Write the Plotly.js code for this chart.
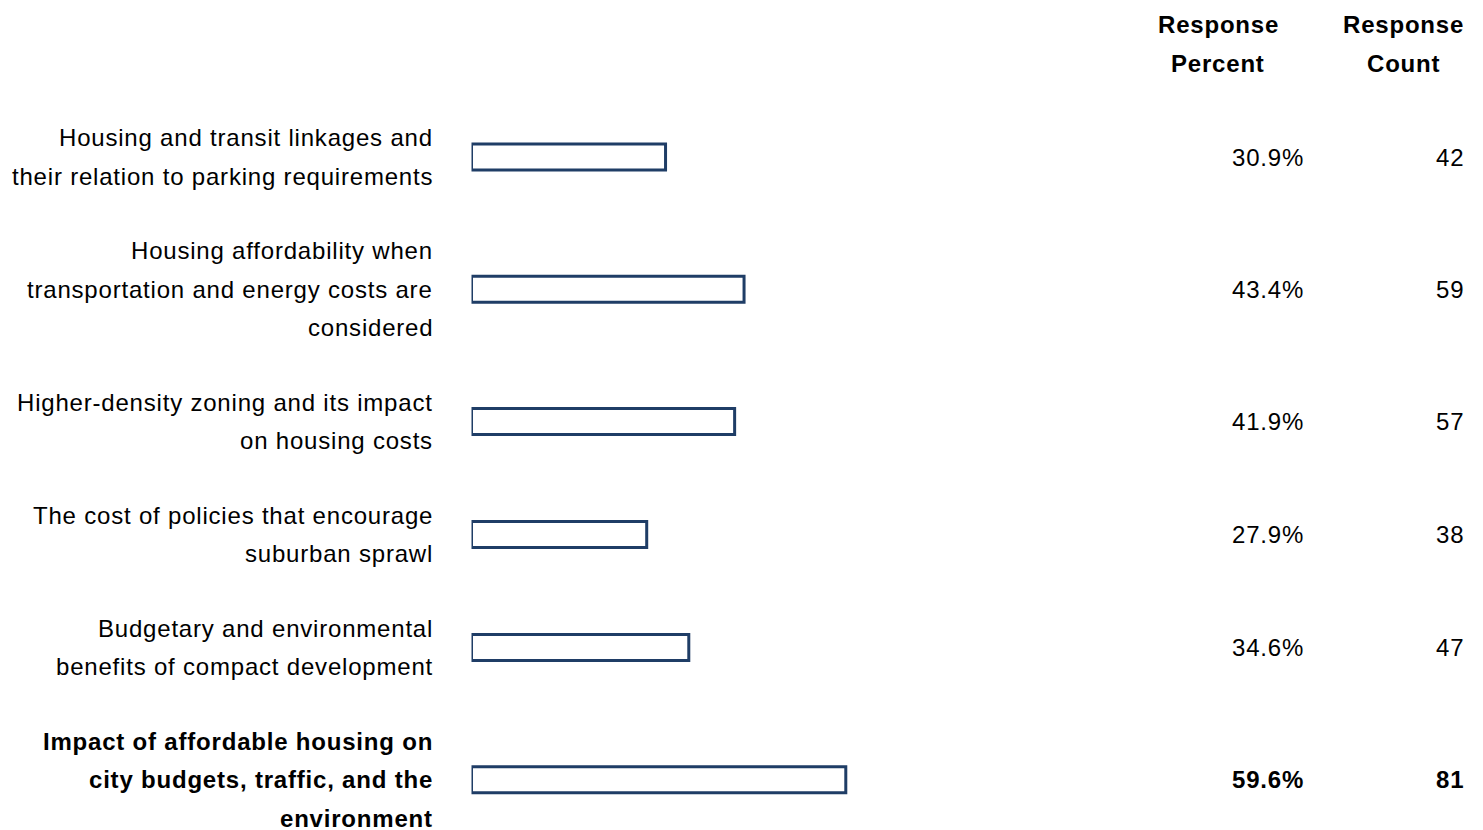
<!DOCTYPE html>
<html>
<head>
<meta charset="utf-8">
<script src="https://cdn.plot.ly/plotly-3.0.1.min.js"></script>
<style>
html,body{margin:0;padding:0;background:#fff;}
#chart{width:1483px;height:830px;}
text.annotation-text{letter-spacing:0.8px;}
</style>
</head>
<body>
<div id="chart"></div>
<script>
// ---- data ----
const answerLabels = [
  "Housing and transit linkages and<br>their relation to parking requirements",
  "Housing affordability when<br>transportation and energy costs are<br>considered",
  "Higher-density zoning and its impact<br>on housing costs",
  "The cost of policies that encourage<br>suburban sprawl",
  "Budgetary and environmental<br>benefits of compact development",
  "Impact of affordable housing on<br>city budgets, traffic, and the<br>environment"
];
const responsePercent = [30.9, 43.4, 41.9, 27.9, 34.6, 59.6];
const responseCount = [42, 59, 57, 38, 47, 81];
const headerPercent = ["Response", "Percent"];
const headerCount = ["Response", "Count"];

// ---- layout helpers (pixel-like y units, y axis reversed over 830px) ----
const W = 1483, H = 830;
const FONT = '"Liberation Sans", Arial, sans-serif';
const FS = 24;
const LINE = 38.5;
const topOffset = 100.5;
const rowPad = 36;

const lineSets = answerLabels.map(s => s.split("<br>"));
const centers = [];
let cur = topOffset;
lineSets.forEach(ls => {
  const h = rowPad + LINE * ls.length;
  centers.push(cur + h / 2);
  cur += h;
});
const maxCount = Math.max(...responseCount);

const annotations = [];
function addText(txt, xpx, ypx, anchor, bold) {
  annotations.push({
    text: bold ? "<b>" + txt + "</b>" : txt,
    xref: "paper", yref: "y",
    x: xpx / W, y: ypx,
    xanchor: anchor, yanchor: "middle",
    showarrow: false,
    font: {family: FONT, size: FS, color: "#000"}
  });
}

// headers
headerPercent.forEach((t, i) => addText(t, 1218, 24 + i * 39, "center", true));
headerCount.forEach((t, i) => addText(t, 1403, 24 + i * 39, "center", true));

lineSets.forEach((ls, r) => {
  const bold = responseCount[r] === maxCount;
  const c = centers[r];
  ls.forEach((t, i) => {
    const y = c + (i - (ls.length - 1) / 2) * LINE;
    addText(t, 435, y, "right", bold);
  });
  addText(responsePercent[r].toFixed(1) + "%", 1306, c, "right", bold);
  addText(String(responseCount[r]), 1466, c, "right", bold);
});

const trace = {
  type: "bar",
  orientation: "h",
  x: responsePercent,
  y: centers,
  width: 26,
  marker: {color: "#ffffff", line: {color: "#1f3d66", width: 3}},
  hoverinfo: "skip"
};

const layout = {
  width: W, height: H,
  margin: {l: 0, r: 0, t: 0, b: 0},
  paper_bgcolor: "#fff", plot_bgcolor: "#fff",
  showlegend: false,
  xaxis: {domain: [471.5 / W, 1099.5 / W], range: [0, 100], visible: false, fixedrange: true},
  yaxis: {range: [H, 0], visible: false, fixedrange: true},
  annotations: annotations
};

Plotly.newPlot("chart", [trace], layout, {displayModeBar: false, staticPlot: true});
</script>
</body>
</html>
